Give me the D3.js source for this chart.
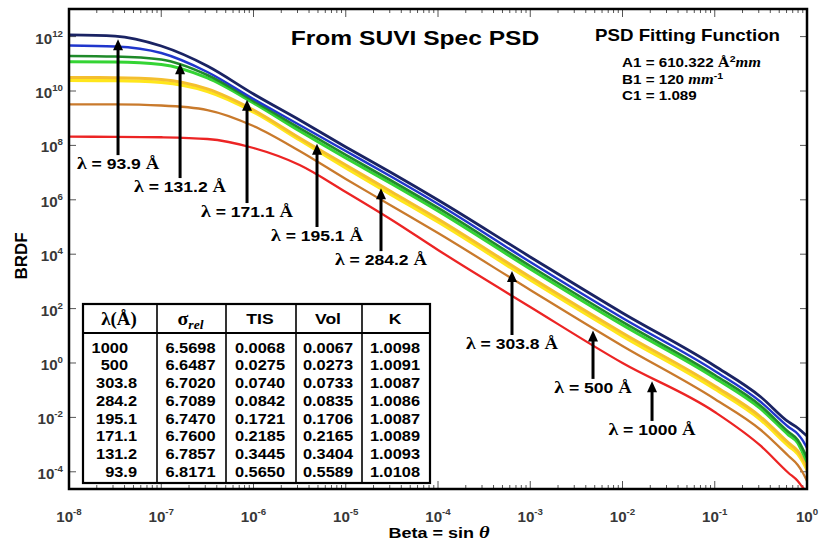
<!DOCTYPE html>
<html><head><meta charset="utf-8">
<script src="https://cdn.jsdelivr.net/npm/d3@7"></script>
<style>body{margin:0;background:#fff}svg{display:block}</style>
</head><body><svg id="c" width="820" height="542"></svg>
<script>
// ---------------- DATA ----------------
const beta = [1e-8, 3.16e-8, 1e-7, 3.16e-7, 1e-6, 3.16e-6, 1e-5, 3.16e-5, 1e-4, 1e-3, 1e-2, 1e-1, 0.316, 0.631, 0.794, 0.891, 1.0];
const brdf939  = [1.15e12, 1.05e12, 4.5e11, 8.3e10, 7.76e9, 8.59e8, 8.73e7, 9.66e6, 9.84e5, 7.89e3, 68.9, 0.776, 0.0562, 0.00678, 0.00408, 0.00290, 0.00207];
const brdf1312 = [4.71e11, 4.33e11, 2.49e11, 5.0e10, 5.08e9, 5.62e8, 6.22e7, 6.89e6, 7.01e5, 5.16e3, 45.1, 0.508, 0.0368, 0.00444, 0.00245, 0.00148, 7.5e-4];
const brdf1711 = [1.94e11, 1.85e11, 1.44e11, 3.87e10, 4.29e9, 4.36e8, 4.44e7, 4.91e6, 5.0e5, 3.68e3, 32.2, 0.362, 0.0262, 0.00290, 0.00148, 7.5e-4, 3.21e-4];
const brdf1951 = [1.19e11, 1.16e11, 9.43e10, 3.01e10, 3.62e9, 3.38e8, 3.44e7, 3.81e6, 3.87e5, 2.86e3, 24.9, 0.281, 0.0204, 0.00225, 0.00115, 5.35e-4, 2.29e-4];
const brdf2842 = [3.13e10, 3.08e10, 2.65e10, 1.19e10, 2.0e9, 1.87e8, 1.90e7, 1.94e6, 1.97e5, 1.45e3, 12.7, 0.143, 0.0103, 0.00115, 5.82e-4, 3.21e-4, 1.50e-4];
const brdf3038 = [2.43e10, 2.39e10, 2.06e10, 9.59e9, 1.69e9, 1.58e8, 1.48e7, 1.50e6, 1.53e5, 1.13e3, 9.83, 0.111, 0.00802, 8.89e-4, 4.51e-4, 2.49e-4, 1.16e-4];
const brdf500  = [3.24e9, 3.22e9, 2.93e9, 2.0e9, 5.16e8, 6.22e7, 5.82e6, 5.92e5, 6.02e4, 483, 4.22, 0.0475, 0.00344, 3.81e-4, 1.78e-4, 9.84e-5, 4.59e-5];
const brdf1000 = [2.09e8, 2.07e8, 1.99e8, 1.72e8, 8.02e7, 1.90e7, 1.94e6, 1.81e5, 1.43e4, 115, 1.0, 0.0158, 8.89e-4, 9.04e-5, 4.59e-5, 2.76e-5, 1.81e-5];

const seriesNames = ["1000", "500", "303.8", "284.2", "195.1", "171.1", "131.2", "93.9"];
const seriesValues = [brdf1000, brdf500, brdf3038, brdf2842, brdf1951, brdf1711, brdf1312, brdf939];

// arrows: wavelength label, beta of arrow, BRDF of arrow tail
const arrowNames = ["93.9", "131.2", "171.1", "195.1", "284.2", "303.8", "500", "1000"];
const arrowBeta  = [3.40e-8, 1.60e-7, 8.51e-7, 4.88e-6, 2.41e-5, 6.34e-4, 4.79e-3, 2.09e-2];
const arrowTail  = [4.4e7, 6.3e6, 7.6e5, 1.0e5, 1.3e4, 10.7, 0.26, 7.4e-3];

const xTickExp = [-8, -7, -6, -5, -4, -3, -2, -1, 0];
const yTickExp = [12, 10, 8, 6, 4, 2, 0, -2, -4];

// table
const tblHeader = ["λ(Å)", "σrel", "TIS", "Vol", "K"];
const tblLambda = ["1000", "500", "303.8", "284.2", "195.1", "171.1", "131.2", "93.9"];
const tblSigma  = ["6.5698", "6.6487", "6.7020", "6.7089", "6.7470", "6.7600", "6.7857", "6.8171"];
const tblTIS    = ["0.0068", "0.0275", "0.0740", "0.0842", "0.1721", "0.2185", "0.3445", "0.5650"];
const tblVol    = ["0.0067", "0.0273", "0.0733", "0.0835", "0.1706", "0.2165", "0.3404", "0.5589"];
const tblK      = ["1.0098", "1.0091", "1.0087", "1.0086", "1.0087", "1.0089", "1.0093", "1.0108"];

const psdParams = ["A1 = 610.322", "B1 = 120", "C1 = 1.089"];

// ---------------- STYLE ----------------
const colorOf = {"1000":"#ec2424","500":"#c97a2c","303.8":"#ffe61c","284.2":"#f4bf2e","195.1":"#34d434","171.1":"#1f8a2a","131.2":"#2036cc","93.9":"#1a2363"};
const widthOf = {"1000":2.3,"500":2.3,"303.8":3.2,"284.2":3.0,"195.1":3.0,"171.1":2.6,"131.2":2.4,"93.9":2.8};
const SANS = "'Liberation Sans', Arial, sans-serif";
const SERIF = "'Liberation Serif', 'Times New Roman', serif";
const SX = 1.17;

// ---------------- CHART ----------------
const W = 820, H = 542, L = 69, R = 807, T = 9, B = 489;
const svg = d3.select("#c");
svg.append("rect").attr("width", W).attr("height", H).attr("fill", "#fff");
const x = d3.scaleLog().domain([1e-8, 1]).range([L, R]);
const y = d3.scaleLog().domain([2.33e-5, 1.035e13]).range([B, T]);

svg.append("defs").append("clipPath").attr("id", "clip")
  .append("rect").attr("x", L).attr("y", T).attr("width", R - L).attr("height", B - T);

function txt(px, py, sx) {
  return svg.append("text").attr("transform", `translate(${px},${py}) scale(${sx || 1},1)`)
    .attr("font-family", SANS).attr("font-weight", "bold");
}

// ticks
const xMinor = [];
xTickExp.slice(0, -1).forEach(e => { for (let k = 2; k <= 9; k++) xMinor.push(k * Math.pow(10, e)); });
const xMajor = xTickExp.map(e => Math.pow(10, e));
const tg = svg.append("g").attr("stroke", "#555").attr("stroke-width", 1);
tg.selectAll(".xmb").data(xMajor).join("line").attr("x1", d => x(d)).attr("x2", d => x(d)).attr("y1", B).attr("y2", B - 8);
tg.selectAll(".xnb").data(xMinor).join("line").attr("x1", d => x(d)).attr("x2", d => x(d)).attr("y1", B).attr("y2", B - 4);
tg.selectAll(".xmt").data(xMajor).join("line").attr("x1", d => x(d)).attr("x2", d => x(d)).attr("y1", T).attr("y2", T + 8);
tg.selectAll(".xnt").data(xMinor).join("line").attr("x1", d => x(d)).attr("x2", d => x(d)).attr("y1", T).attr("y2", T + 4);
const yMajor = yTickExp.map(e => Math.pow(10, e));
tg.selectAll(".yl").data(yMajor).join("line").attr("x1", L).attr("x2", L + 7).attr("y1", d => y(d)).attr("y2", d => y(d));
tg.selectAll(".yr").data(yMajor).join("line").attr("x1", R - 7).attr("x2", R).attr("y1", d => y(d)).attr("y2", d => y(d));

// tick labels
yTickExp.forEach(e => {
  const t = txt(63, y(Math.pow(10, e)) + 7, 1.08).attr("text-anchor", "end").attr("fill", "#383838").attr("font-size", 14);
  t.append("tspan").text("10");
  t.append("tspan").attr("dy", -7).attr("font-size", 9).text(e);
});
xTickExp.forEach(e => {
  const t = txt(x(Math.pow(10, e)), 522, 1.08).attr("text-anchor", "middle").attr("fill", "#383838").attr("font-size", 14);
  t.append("tspan").text("10");
  t.append("tspan").attr("dy", -7).attr("font-size", 9).text(e);
});

// curves
const line = d3.line().x((d, i) => x(beta[i])).y(d => y(d)).curve(d3.curveMonotoneX);
const cg = svg.append("g").attr("clip-path", "url(#clip)");
seriesNames.forEach((n, si) => {
  cg.append("path").datum(seriesValues[si]).attr("d", line)
    .attr("fill", "none").attr("stroke", colorOf[n]).attr("stroke-width", widthOf[n])
    .attr("stroke-linejoin", "round").attr("stroke-linecap", "round");
});

// arrows
function valueAt(vals, b) {
  const lb = Math.log10(b);
  for (let i = 0; i < beta.length - 1; i++) {
    const a0 = Math.log10(beta[i]), a1 = Math.log10(beta[i + 1]);
    if (lb >= a0 && lb <= a1) {
      const t = (lb - a0) / (a1 - a0);
      return Math.pow(10, Math.log10(vals[i]) * (1 - t) + Math.log10(vals[i + 1]) * t);
    }
  }
  return vals[vals.length - 1];
}
const ag = svg.append("g");
arrowNames.forEach((n, i) => {
  const vals = seriesValues[seriesNames.indexOf(n)];
  const ax = x(arrowBeta[i]);
  const tipY = y(valueAt(vals, arrowBeta[i])) + 2.5;
  const tailY = y(arrowTail[i]);
  ag.append("line").attr("x1", ax).attr("x2", ax).attr("y1", tailY).attr("y2", tipY + 8)
    .attr("stroke", "#000").attr("stroke-width", 3);
  ag.append("path").attr("d", `M${ax},${tipY} L${ax - 5},${tipY + 11} L${ax + 5},${tipY + 11} Z`).attr("fill", "#000");
  const t = txt(ax, tailY + 14, SX).attr("text-anchor", "middle").attr("font-size", 15).attr("fill", "#000");
  t.append("tspan").attr("font-family", SERIF).attr("font-size", 17).text("λ");
  t.append("tspan").text(" = " + n + " ");
  t.append("tspan").attr("font-family", SERIF).attr("font-size", 16).text("Å");
});

// title & PSD box
txt(415, 45, SX).attr("text-anchor", "middle").attr("font-size", 21).text("From SUVI Spec PSD");
txt(595, 41, SX).attr("font-size", 16).text("PSD Fitting Function");
{
  const a = txt(622, 67, SX).attr("font-size", 13);
  a.append("tspan").text(psdParams[0] + "  ");
  a.append("tspan").attr("font-family", SERIF).attr("font-size", 14).text("Å");
  a.append("tspan").attr("dy", -5).attr("font-size", 9).text("2");
  a.append("tspan").attr("dy", 5).attr("font-family", SERIF).attr("font-style", "italic").attr("font-size", 14).text("mm");
  const b = txt(622, 84, SX).attr("font-size", 13);
  b.append("tspan").text(psdParams[1] + "  ");
  b.append("tspan").attr("font-family", SERIF).attr("font-style", "italic").attr("font-size", 14).text("mm");
  b.append("tspan").attr("dy", -5).attr("font-size", 9).text("-1");
  txt(622, 100, SX).attr("font-size", 13).text(psdParams[2]);
}

// axis labels
svg.append("text").attr("transform", "translate(27,256) rotate(-90)").attr("text-anchor", "middle")
  .attr("font-family", SANS).attr("font-weight", "bold").attr("font-size", 17).text("BRDF");
{
  const t = txt(439, 538, 1.2).attr("text-anchor", "middle").attr("font-size", 15);
  t.append("tspan").text("Beta = sin ");
  t.append("tspan").attr("font-family", SERIF).attr("font-style", "italic").attr("font-size", 17).text("θ");
}

// table
const colX = [83, 157, 226, 296, 362, 430];
const tT = 304, tHead = 333, tB = 483;
const tbl = svg.append("g");
tbl.append("rect").attr("x", colX[0]).attr("y", tT).attr("width", colX[5] - colX[0]).attr("height", tB - tT)
  .attr("fill", "#fff").attr("stroke", "#000").attr("stroke-width", 2.2);
tbl.append("line").attr("x1", colX[0]).attr("x2", colX[5]).attr("y1", tHead).attr("y2", tHead).attr("stroke", "#000").attr("stroke-width", 1.8);
colX.slice(1, 5).forEach(cx => tbl.append("line").attr("x1", cx).attr("x2", cx).attr("y1", tT).attr("y2", tB).attr("stroke", "#000").attr("stroke-width", 1.6));
const colC = colX.slice(0, 5).map((v, i) => (v + colX[i + 1]) / 2 - 1);
{
  const h0 = txt(colC[0], 325, 1.05).attr("text-anchor", "middle").attr("font-family", SERIF).attr("font-size", 18);
  h0.text(tblHeader[0]);
  const h1 = txt(colC[1], 325, 1.05).attr("text-anchor", "middle").attr("font-family", SERIF).attr("font-size", 19);
  h1.append("tspan").text(tblHeader[1].slice(0, 1));
  h1.append("tspan").attr("dy", 4).attr("font-style", "italic").attr("font-size", 13).text(tblHeader[1].slice(1));
  [2, 3, 4].forEach(i => txt(colC[i], 324, SX).attr("text-anchor", "middle").attr("font-size", 15).text(tblHeader[i]));
}
const cols = [tblSigma, tblTIS, tblVol, tblK];
tblLambda.forEach((lam, r) => {
  const by = 352.5 + r * 17.75;
  const hasDot = lam.indexOf(".") >= 0;
  txt(hasDot ? 137 : 128, by, SX).attr("text-anchor", "end").attr("font-size", 14).text(lam);
  cols.forEach((c, ci) => txt(colC[ci + 1], by, SX).attr("text-anchor", "middle").attr("font-size", 14).text(c[r]));
});

// frame
svg.append("rect").attr("x", L).attr("y", T).attr("width", R - L).attr("height", B - T)
  .attr("fill", "none").attr("stroke", "#000").attr("stroke-width", 2.5);
</script></body></html>
